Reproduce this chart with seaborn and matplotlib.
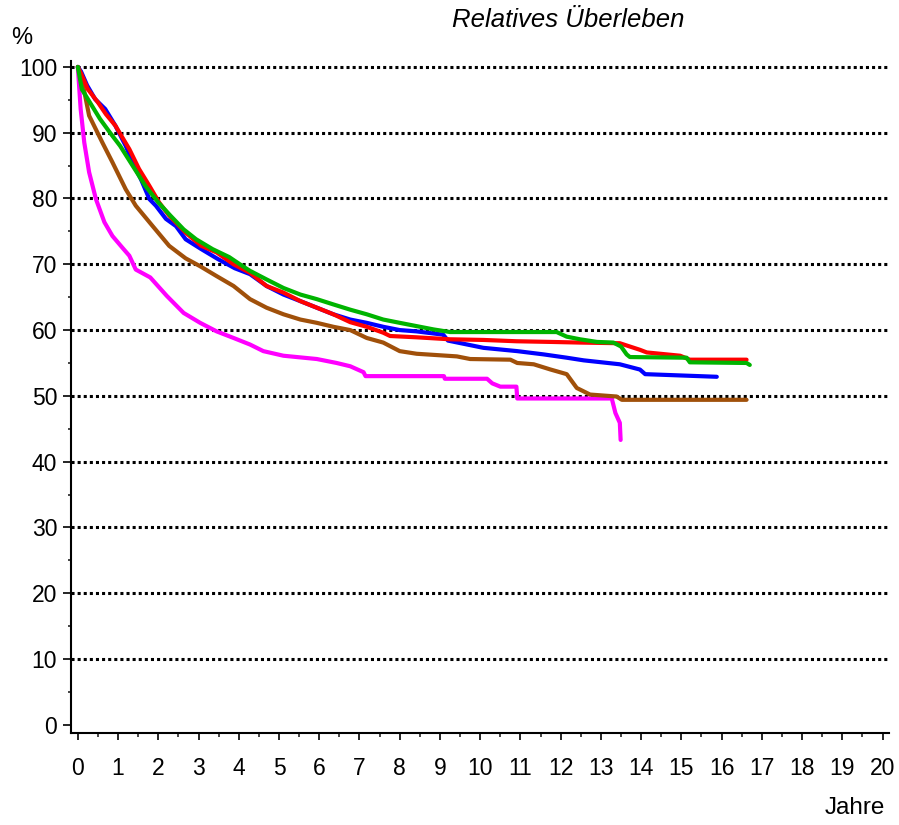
import matplotlib
matplotlib.use("Agg")
import matplotlib.pyplot as plt
from matplotlib.ticker import MultipleLocator
import seaborn as sns
import pandas as pd

# ---- data (years, relative survival %) ----
magenta_x = [0, 0.07, 0.16, 0.28, 0.45, 0.66, 0.86, 1.11, 1.28, 1.44, 1.80, 2.21, 2.63, 3.04, 3.45, 3.87, 4.28,
             4.61, 5.11, 5.94, 6.43, 6.77, 7.1, 7.15, 9.1, 9.12, 10.17, 10.3, 10.5, 10.9, 10.92, 13.27,
             13.36, 13.47, 13.49]
magenta_y = [100, 93.6, 88.5, 84.0, 79.9, 76.4, 74.3, 72.5, 71.3, 69.2, 68.0, 65.2, 62.6, 61.1, 59.8, 58.8, 57.8,
             56.8, 56.1, 55.6, 55.0, 54.5, 53.6, 53.0, 53.0, 52.6, 52.6, 51.9, 51.4, 51.4, 49.6, 49.6,
             47.4, 45.9, 43.3]

brown_x = [0, 0.06, 0.13, 0.28, 0.61, 0.86, 1.19, 1.44, 1.86, 2.27, 2.68, 3.04, 3.45, 3.87, 4.28, 4.69, 5.11,
           5.53, 5.94, 6.35, 6.77, 7.18, 7.59, 8.0, 8.42, 9.42, 9.75, 10.75, 10.92, 11.33, 11.75, 12.15, 12.4,
           12.73, 13.39, 13.52, 16.62]
brown_y = [100, 99.0, 97.2, 92.6, 88.5, 85.5, 81.4, 78.9, 75.8, 72.8, 70.9, 69.7, 68.2, 66.7, 64.7, 63.4, 62.4,
           61.6, 61.1, 60.5, 60.0, 58.8, 58.1, 56.8, 56.4, 56.0, 55.6, 55.5, 55.0, 54.8, 54.0, 53.3, 51.2,
           50.2, 49.9, 49.4, 49.4]

blue_x = [0, 0.08, 0.23, 0.43, 0.68, 0.93, 1.19, 1.36, 1.57, 1.78, 1.94, 2.19, 2.44, 2.68, 3.07, 3.48, 3.9, 4.28,
          4.69, 5.11, 5.53, 5.94, 6.35, 6.77, 7.18, 7.59, 8.0, 8.42, 9.08, 9.2, 10.08, 10.92, 11.58, 12.15,
          12.57, 13.47, 13.97, 14.1, 15.88]
blue_y = [100, 99.3, 97.2, 95.1, 93.6, 91.1, 88.0, 85.5, 82.9, 79.9, 78.9, 76.9, 75.8, 73.8, 72.3, 70.8, 69.4, 68.5,
          66.7, 65.4, 64.4, 63.4, 62.4, 61.6, 61.1, 60.5, 60.0, 59.8, 59.3, 58.4, 57.3, 56.8, 56.3, 55.8,
          55.4, 54.8, 54.0, 53.3, 52.9]

red_x = [0, 0.08, 0.25, 0.5, 0.7, 0.93, 1.28, 1.52, 1.78, 2.02, 2.27, 2.68, 3.07, 3.45, 3.87, 4.28, 4.69, 5.11,
         5.53, 5.94, 6.35, 6.77, 7.18, 7.59, 7.76, 8.42, 9.25, 10.08, 10.9, 11.75, 12.48, 13.47, 13.72, 13.97,
         14.14, 14.97, 15.21, 16.62]
red_y = [100, 99.0, 96.6, 94.6, 92.8, 91.1, 87.5, 84.5, 81.9, 79.4, 77.4, 74.8, 72.8, 71.8, 70.0, 68.7, 66.7, 65.7,
         64.4, 63.4, 62.4, 61.2, 60.5, 59.6, 59.1, 58.9, 58.6, 58.5, 58.3, 58.2, 58.1, 58.0, 57.5, 57.0,
         56.6, 56.1, 55.5, 55.5]

green_x = [0, 0.1, 0.3, 0.55, 0.8, 1.05, 1.36, 1.68, 2.0, 2.3, 2.63, 2.94, 3.35, 3.76, 4.1, 4.28, 4.69, 5.11, 5.53,
           5.94, 6.35, 6.77, 7.18, 7.59, 8.0, 8.42, 8.84, 9.25, 11.9, 12.15, 12.48, 12.9, 13.31, 13.5, 13.64,
           13.72, 15.13, 15.21, 16.62, 16.7]
green_y = [100, 96.6, 94.6, 92.1, 90.0, 88.0, 85.0, 81.9, 79.4, 77.4, 75.3, 73.8, 72.3, 71.1, 69.7, 69.0, 67.7, 66.4,
           65.4, 64.7, 63.9, 63.1, 62.4, 61.6, 61.1, 60.6, 60.1, 59.7, 59.7, 59.0, 58.6, 58.2, 58.1, 57.5, 56.3,
           55.9, 55.8, 55.1, 55.0, 54.7]

series = {"magenta": (magenta_x, magenta_y), "brown": (brown_x, brown_y), "blue": (blue_x, blue_y),
          "red": (red_x, red_y), "green": (green_x, green_y)}
colors = {"magenta": "#FF00FF", "brown": "#A0500A", "blue": "#0000FF", "red": "#FF0000", "green": "#00B400"}

x_ticks = list(range(0, 21))
y_ticks = list(range(0, 101, 10))
grid_levels = list(range(10, 101, 10))

rows = []
for name, (xs, ys) in series.items():
    for i, (a, b) in enumerate(zip(xs, ys)):
        rows.append({"serie": name, "Jahre": a, "pct": b, "order": i})
df = pd.DataFrame(rows)

sns.set_theme(style="ticks")
plt.rcParams["font.family"] = ["Liberation Sans", "DejaVu Sans"]

fig = plt.figure(figsize=(8.99, 8.25), dpi=100)
ax = fig.add_axes([71 / 899, 1 - 732.7 / 825, (889 - 71) / 899, (732.7 - 61) / 825])

for lvl in grid_levels:
    ax.axhline(lvl, color="black", lw=2.2, linestyle=(0, (1, 1)), dash_capstyle="butt", zorder=1)

sns.lineplot(data=df, x="Jahre", y="pct", hue="serie", hue_order=list(series.keys()),
             palette=colors, sort=False, estimator=None, lw=3.0, legend=False, ax=ax, zorder=3)

ax.set_xlim(-0.17, 20.16)
ax.set_ylim(-1.2, 100.9)
ax.set_xticks(x_ticks)
ax.set_xticklabels([str(v) for v in x_ticks])
ax.set_yticks(y_ticks)
ax.set_yticklabels([str(v) for v in y_ticks])
ax.xaxis.set_minor_locator(MultipleLocator(0.5))
ax.yaxis.set_minor_locator(MultipleLocator(5))
ax.tick_params(axis="x", which="major", length=4.8, width=1.2, pad=13, labelsize=16.5, colors="black")
ax.tick_params(axis="x", which="minor", length=2.9, width=1.2)
ax.tick_params(axis="y", which="major", length=5.5, width=1.2, pad=4.5, labelsize=16.5, colors="black")
ax.tick_params(axis="y", which="minor", length=2.4, width=1.2)
for s in ["top", "right"]:
    ax.spines[s].set_visible(False)
for s in ["left", "bottom"]:
    ax.spines[s].set_linewidth(1.5)
    ax.spines[s].set_color("black")
ax.set_xlabel("")
ax.set_ylabel("")

fig.text(22 / 899, 1 - 38 / 825, "%", fontsize=17, ha="center", va="center", color="black")
fig.text(568 / 899, 1 - 20 / 825, "Relatives Überleben", fontsize=18.5, style="italic",
         ha="center", va="center", color="black")
fig.text(885 / 899, 1 - 808 / 825, "Jahre", fontsize=17.5, ha="right", va="center", color="black")

fig.savefig("out.png", dpi=100)
